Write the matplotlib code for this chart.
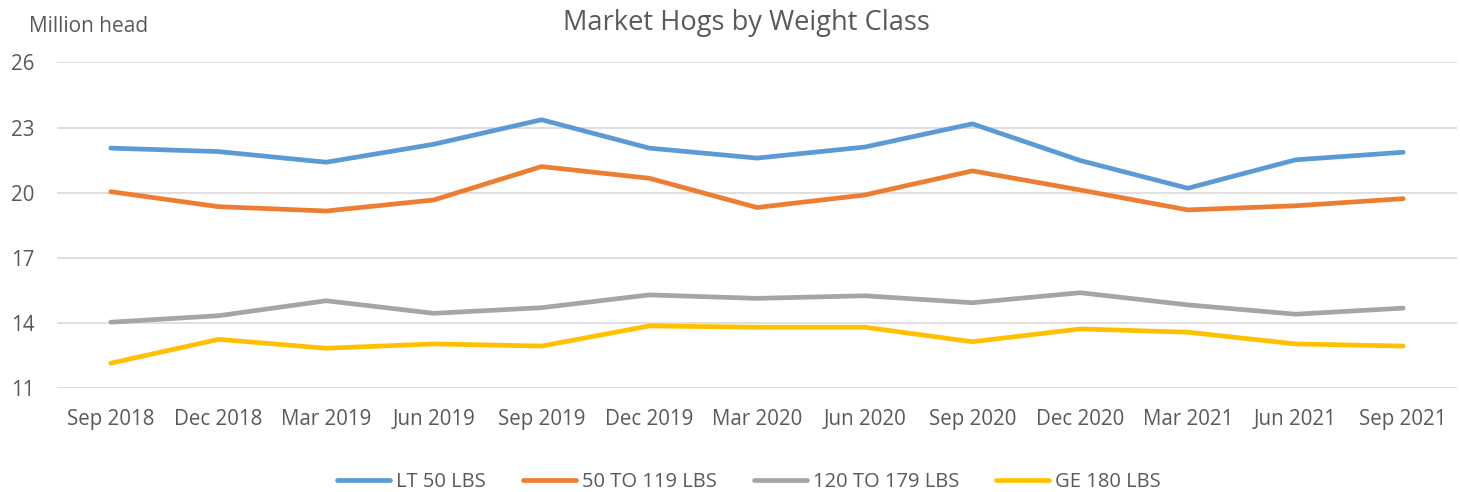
import matplotlib.pyplot as plt
import numpy as np

# Quarterly market hog inventory, million head
quarters = ['Sep 2018', 'Dec 2018', 'Mar 2019', 'Jun 2019', 'Sep 2019', 'Dec 2019',
            'Mar 2020', 'Jun 2020', 'Sep 2020', 'Dec 2020', 'Mar 2021', 'Jun 2021', 'Sep 2021']
lt_50 = [22.05, 21.89, 21.40, 22.23, 23.36, 22.05, 21.59, 22.10, 23.17, 21.48, 20.20, 21.51, 21.86]
w_50_119 = [20.04, 19.35, 19.15, 19.66, 21.20, 20.66, 19.31, 19.89, 21.00, 20.12, 19.20, 19.39, 19.72]
w_120_179 = [14.02, 14.32, 15.01, 14.43, 14.69, 15.28, 15.12, 15.24, 14.92, 15.38, 14.82, 14.39, 14.67]
ge_180 = [12.13, 13.23, 12.82, 13.02, 12.92, 13.85, 13.79, 13.79, 13.12, 13.71, 13.56, 13.02, 12.92]
series_names = ['LT 50 LBS', '50 TO 119 LBS', '120 TO 179 LBS', 'GE 180 LBS']
y_ticks = [11, 14, 17, 20, 23, 26]

plt.rcParams['font.family'] = ['Open Sans', 'DejaVu Sans']
text_color = '#595959'

fig = plt.figure(figsize=(14.6, 4.92), dpi=100)
ax = fig.add_axes([0.039, 0.212, 0.959, 0.661])

x = np.arange(len(quarters))
colors = ['#5B9BD5', '#ED7D31', '#A5A5A5', '#FFC000']
for vals, name, c in zip([lt_50, w_50_119, w_120_179, ge_180], series_names, colors):
    ax.plot(x, vals, color=c, linewidth=3.4, label=name, solid_capstyle='round')

ax.set_xlim(-0.5, len(quarters) - 0.5)
ax.set_ylim(11, 26)
ax.set_yticks(y_ticks)
ax.set_xticks(x)
ax.set_xticklabels(quarters)
ax.tick_params(axis='both', length=0, labelsize=14.8, colors=text_color)
ax.tick_params(axis='x', pad=15)
ax.tick_params(axis='y', pad=16)

ax.grid(axis='y', color='#D9D9D9', linewidth=1.2)
ax.set_axisbelow(True)
for s in ax.spines.values():
    s.set_visible(False)

fig.text(0.511, 0.953, 'Market Hogs by Weight Class', ha='center', va='center',
         fontsize=19.6, color=text_color)
fig.text(0.020, 0.946, 'Million head', ha='left', va='center', fontsize=15, color=text_color)

fig.legend(loc='center', bbox_to_anchor=(0.513, 0.02), ncol=4, frameon=False,
           fontsize=14.5, labelcolor=text_color, handlelength=2.63, handletextpad=0.3,
           columnspacing=1.84)

fig.savefig('out.png', dpi=100)
